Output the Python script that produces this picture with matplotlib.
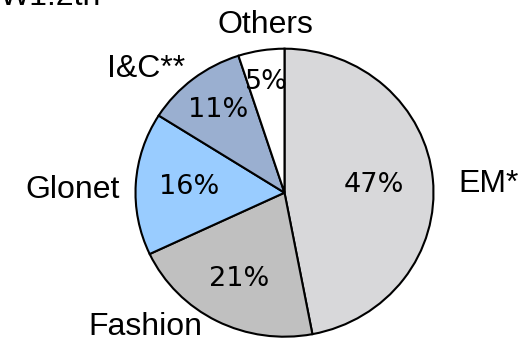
import numpy as np
from matplotlib import pyplot as plt

# sales share by business unit
units    = ['EM*', 'Fashion', 'Glonet', 'I&C**', 'Others']
shares   = [47, 21, 16, 11, 5]
colours  = ['#D8D8DA', '#C0C0C0', '#99CCFF', '#9AAFD0', '#FFFFFF']

# where the percentages sit, as a fraction of the radius
pct_dist = [0.60, 0.67, 0.64, 0.73, 0.78]

# unit label anchors (left edge, baseline) in pie units
label_xy = [(1.164, 0.005), (-1.319, -0.988), (-1.742, -0.037),
            (-1.191, 0.803), (-0.453, 1.109)]

fig = plt.figure(figsize=(5.19, 3.39), dpi=100)
ax  = fig.add_axes([0, 0, 1, 1])

wedges, _ = ax.pie(shares, colors=colours, startangle=90, counterclock=False,
                   wedgeprops=dict(edgecolor='k', linewidth=1.5))

for w, s, d in zip(wedges, shares, pct_dist):
    mid = np.deg2rad((w.theta1 + w.theta2) / 2)
    ax.text(d * np.cos(mid), d * np.sin(mid), '{}%'.format(s),
            ha='center', va='center', fontsize=19.5, family='DejaVu Sans')

for name, (x, y) in zip(units, label_xy):
    ax.text(x, y, name, ha='left', va='baseline', fontsize=23,
            family='Liberation Sans')

fig.text(0.0, 0.985, 'W1.2th', ha='left', va='baseline', fontsize=23,
         family='Liberation Sans')

# slightly wider than tall, like the original
ax.set_aspect('auto')
ax.set_xlim(-284.5 / 149, (519 - 284.5) / 149)
ax.set_ylim(-(339 - 192.7) / 144, 192.7 / 144)
ax.axis('off')

plt.savefig('out.png', dpi=100)
